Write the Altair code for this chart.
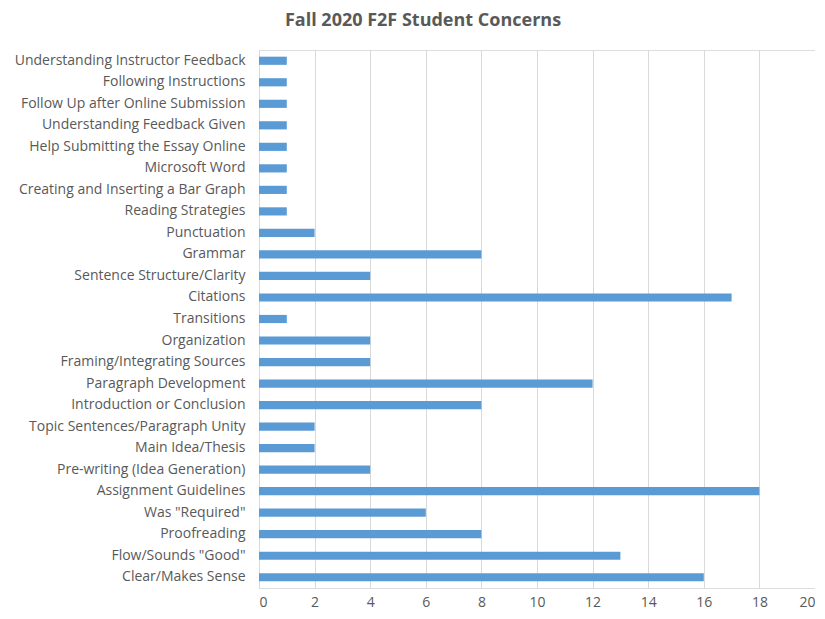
import altair as alt
import pandas as pd

categories = [
    "Understanding Instructor Feedback",
    "Following Instructions",
    "Follow Up after Online Submission",
    "Understanding Feedback Given",
    "Help Submitting the Essay Online",
    "Microsoft Word",
    "Creating and Inserting a Bar Graph",
    "Reading Strategies",
    "Punctuation",
    "Grammar",
    "Sentence Structure/Clarity",
    "Citations",
    "Transitions",
    "Organization",
    "Framing/Integrating Sources",
    "Paragraph Development",
    "Introduction or Conclusion",
    "Topic Sentences/Paragraph Unity",
    "Main Idea/Thesis",
    "Pre-writing (Idea Generation)",
    "Assignment Guidelines",
    'Was "Required"',
    "Proofreading",
    'Flow/Sounds "Good"',
    "Clear/Makes Sense",
]
counts = [1, 1, 1, 1, 1, 1, 1, 1, 2, 8, 4, 17, 1, 4, 4, 12, 8, 2, 2, 4, 18, 6, 8, 13, 16]
x_ticks = [0, 2, 4, 6, 8, 10, 12, 14, 16, 18, 20]

df = pd.DataFrame({"concern": categories, "count": counts})

FONT = "Open Sans"
GREY = "#595959"

chart = (
    alt.Chart(df)
    .mark_bar(color="#5B9BD5")
    .encode(
        x=alt.X(
            "count:Q",
            scale=alt.Scale(domain=[0, 20], nice=False),
            axis=alt.Axis(
                values=x_ticks,
                title=None,
                domain=False,
                ticks=False,
                grid=True,
                gridColor="#D9D9D9",
                gridWidth=1,
                labelColor=GREY,
                labelFont=FONT,
                labelFontSize=14,
                labelPadding=7,
            ),
        ),
        y=alt.Y(
            "concern:N",
            sort=categories,
            scale=alt.Scale(paddingInner=0.62, paddingOuter=0.31),
            axis=alt.Axis(
                title=None,
                ticks=False,
                domain=True,
                domainColor="#D9D9D9",
                labelColor=GREY,
                labelFont=FONT,
                labelFontSize=14,
                labelPadding=14,
                labelLimit=400,
            ),
        ),
    )
    .properties(
        width=556,
        height=538,
        title=alt.TitleParams(
            "Fall 2020 F2F Student Concerns",
            font=FONT,
            fontSize=18,
            fontWeight="bold",
            color=GREY,
            anchor="middle",
            dx=-114,
            offset=20,
        ),
        autosize=alt.AutoSizeParams(type="none"),
        padding={"left": 251, "top": 42, "right": 0, "bottom": 23},
    )
    .configure_view(stroke=None)
    .configure(background="white")
)

chart.save("out.html", embed_options={"renderer": "svg", "actions": False})
